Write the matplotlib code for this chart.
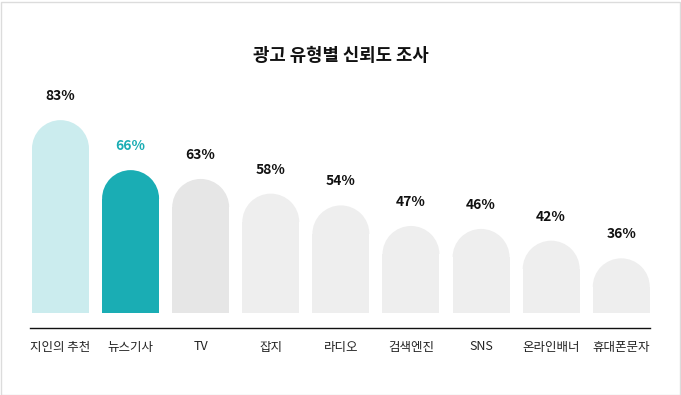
import numpy as np
import matplotlib.pyplot as plt
from matplotlib.patches import Ellipse, Rectangle

plt.rcParams['font.family'] = ['Noto Sans CJK KR', 'DejaVu Sans']

categories = ['지인의 추천', '뉴스기사', 'TV', '잡지', '라디오', '검색엔진', 'SNS', '온라인배너', '휴대폰문자']
values = [83, 66, 63, 58, 54, 47, 46, 42, 36]
bar_colors = ['#cbecee', '#1aadb4', '#e6e6e6'] + ['#eeeeee'] * 6
label_colors = ['#111111', '#1aadb4'] + ['#111111'] * 7

fig = plt.figure(figsize=(6.81, 3.95), dpi=100)
ax = fig.add_axes([30/681, 67/395, 620/681, 248/395])

base = 17.4   # bars start here
width = 0.813
ax.set_xlim(-0.435, 8.41)
ax.set_ylim(12.3, 96.65)

# pixel size of one data unit, to keep the tops round
p0 = ax.transData.transform((0, 0))
p1 = ax.transData.transform((1, 1))
px_x = p1[0] - p0[0]
px_y = p1[1] - p0[1]
ry = (width / 2) * px_x / px_y

x = np.arange(len(values))
for i in range(len(values)):
    v = values[i]
    c = bar_colors[i]
    ax.bar(x[i], v - ry - base, bottom=base, width=width, color=c, linewidth=0)
    top = Ellipse((x[i], v - ry), width, 2 * ry, color=c, linewidth=0)
    ax.add_patch(top)
    # keep only the upper half of the cap
    clip = Rectangle((x[i] - width, v - ry), 2 * width, 2 * ry, transform=ax.transData)
    top.set_clip_path(clip)
    ax.annotate(f'{v}%', (x[i], v), xytext=(0, 17.3), textcoords='offset points',
                ha='center', va='center', fontsize=10, fontweight='bold',
                color=label_colors[i])

ax.set_xticks(x)
ax.set_xticklabels(categories, fontsize=9, color='#222222')
ax.tick_params(axis='x', length=0, pad=9)
ax.set_yticks([])
for s in ['top', 'left', 'right']:
    ax.spines[s].set_visible(False)
ax.spines['bottom'].set_color('#111111')
ax.spines['bottom'].set_linewidth(1)

fig.text(0.5, 1 - 56/395, '광고 유형별 신뢰도 조사', ha='center', va='center',
         fontsize=12.8, fontweight='bold', color='#111111')

fig.patches.append(Rectangle((0.5/681, 0.5/395), 679/681, 393/395, transform=fig.transFigure,
                             fill=False, edgecolor='#dcdcdc', linewidth=1))

fig.savefig('out.png', dpi=100)
